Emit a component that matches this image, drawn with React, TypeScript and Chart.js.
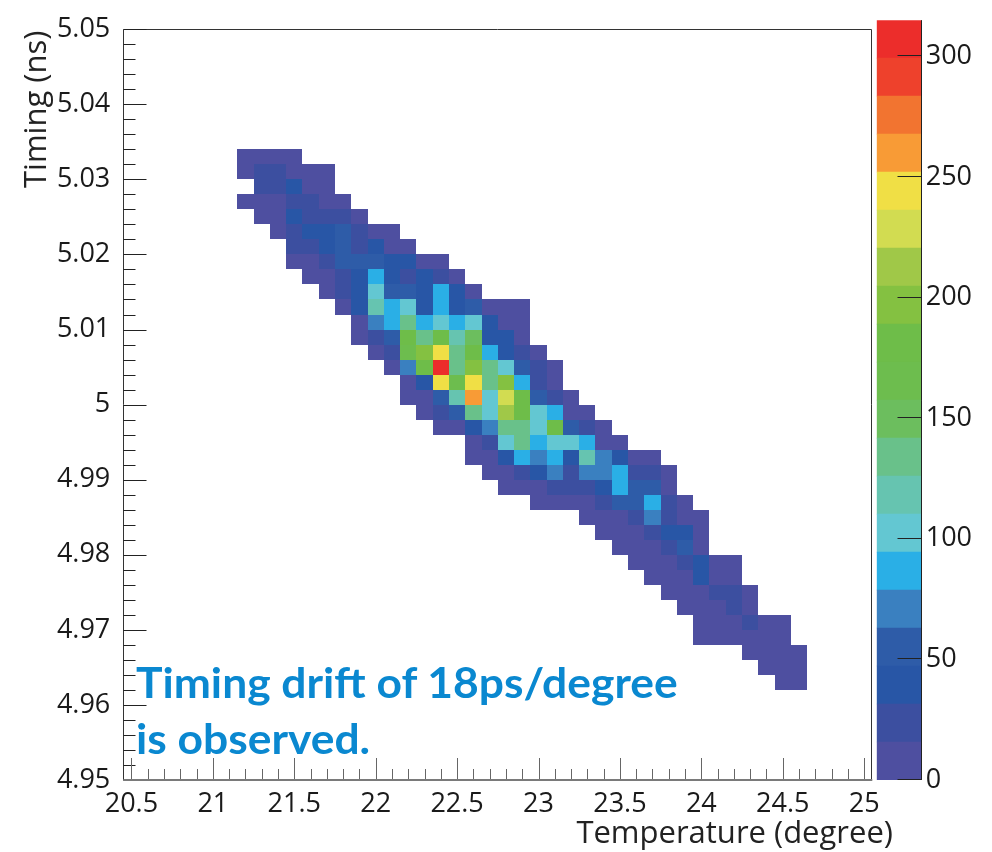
import React, { useEffect, useLayoutEffect, useRef, useState } from "react";
import { Chart, registerables } from "chart.js";

Chart.register(...registerables);

// ---- binning of the 2D histogram ----
const xBinFirstLow = 21.15; // low edge of the first temperature bin
const xBinWidth = 0.1;
const yBinFirstHigh = 5.034; // high edge of the first (top) timing bin
const yBinWidth = 0.002;

// first temperature bin index used in each timing row (top row first)
const rowFirstBin = [
  0, 0, 1, 0, 1, 2, 3, 3, 4, 5, 6, 7, 7, 8, 9, 10, 10, 11, 12, 14, 14, 15, 16,
  18, 21, 22, 23, 24, 25, 26, 27, 28, 28, 31, 32, 33,
];

// entries per cell, row by row from the top (5.034 ns) downwards
const rowCounts = [
  [4, 7, 6, 3],
  [9, 20, 22, 13, 10, 5],
  [19, 26, 35, 14, 8],
  [5, 11, 14, 25, 23, 12, 6],
  [7, 13, 36, 27, 29, 21, 9],
  [10, 24, 40, 38, 52, 27, 12, 4],
  [18, 29, 42, 56, 26, 37, 11, 6],
  [8, 14, 28, 58, 50, 61, 44, 39, 12, 5],
  [6, 12, 25, 41, 90, 43, 30, 36, 22, 9],
  [10, 23, 45, 104, 57, 53, 46, 85, 38, 8],
  [13, 42, 120, 92, 101, 40, 89, 44, 59, 11, 7, 4],
  [9, 70, 86, 131, 93, 107, 82, 99, 35, 13, 6],
  [5, 29, 54, 178, 138, 184, 115, 149, 43, 33, 10],
  [12, 26, 168, 195, 246, 130, 180, 88, 38, 20, 7],
  [14, 73, 186, 312, 136, 199, 128, 98, 60, 24, 8],
  [9, 37, 240, 170, 249, 133, 202, 84, 28, 11],
  [5, 13, 56, 116, 262, 108, 229, 183, 55, 21, 10],
  [11, 27, 52, 139, 103, 215, 177, 105, 91, 13, 6],
  [8, 15, 46, 68, 136, 129, 100, 175, 59, 25, 9],
  [12, 22, 106, 134, 86, 102, 97, 91, 14, 7],
  [6, 13, 42, 89, 71, 81, 39, 119, 66, 44, 12, 5],
  [9, 14, 26, 41, 75, 30, 69, 74, 92, 23, 19, 8],
  [7, 11, 15, 22, 28, 25, 37, 83, 51, 58, 13],
  [6, 10, 14, 12, 24, 54, 57, 94, 27, 9],
  [5, 11, 15, 28, 65, 22, 13, 6],
  [7, 9, 14, 26, 35, 42, 10],
  [4, 12, 15, 24, 50, 11],
  [6, 9, 14, 30, 39, 12, 5],
  [8, 11, 13, 34, 14, 7],
  [5, 10, 15, 20, 17, 8],
  [6, 12, 14, 23, 9],
  [7, 10, 13, 18, 12, 5],
  [4, 8, 11, 13, 9, 6],
  [7, 10, 12, 5],
  [9, 8, 6],
  [5, 4],
];

// ---- axes ----
const xRange = [20.45, 25.05];
const yRange = [4.95, 5.05];
const xAxisTicks = [20.5, 21, 21.5, 22, 22.5, 23, 23.5, 24, 24.5, 25];
const yAxisTicks = [4.95, 4.96, 4.97, 4.98, 4.99, 5, 5.01, 5.02, 5.03, 5.04, 5.05];
const zAxisTicks = [0, 50, 100, 150, 200, 250, 300];
const zMax = 315;
const xMinorStep = 0.1;
const yMinorStep = 0.002;

const xTitle = "Temperature (degree)";
const yTitle = "Timing (ns)";
const noteLines = ["Timing drift of 18ps/degree", "is observed."];

// 20-level palette, lowest first
const paletteColors = [
  "#4e4fa0", "#3c4fa0", "#2856a6", "#2e5ca8", "#3a80c0",
  "#2aafe6", "#63c7d2", "#66c4b0", "#69c18a", "#6cbe5e",
  "#6dbd4e", "#6ebd49", "#84c141", "#a0c848", "#d2dc51",
  "#f0df45", "#f89b36", "#f27430", "#ee412c", "#ec2d2b",
];

const FONT = "'Open Sans', 'DejaVu Sans', sans-serif";
const fmt = (v: number) => String(Math.round(v * 1000) / 1000);

type Cell = { x: number; y: number; v: number };

function buildCells(): Cell[] {
  const cells: Cell[] = [];
  rowCounts.forEach((row, j) => {
    row.forEach((v, k) => {
      const i = rowFirstBin[j] + k;
      cells.push({
        x: xBinFirstLow + (i + 0.5) * xBinWidth,
        y: yBinFirstHigh - (j + 0.5) * yBinWidth,
        v,
      });
    });
  });
  return cells;
}

function levelOf(v: number) {
  return Math.min(paletteColors.length - 1, Math.floor((v / zMax) * paletteColors.length));
}

const heatmapPlugin = {
  id: "heatmap2d",
  afterDatasetsDraw(chart: any) {
    const { ctx, chartArea: a } = chart;
    const xs = chart.scales.x;
    const ys = chart.scales.y;
    const data: Cell[] = chart.data.datasets[0].data;
    ctx.save();
    for (const c of data) {
      if (c.v <= 0) continue;
      const l = Math.round(xs.getPixelForValue(c.x - xBinWidth / 2));
      const r = Math.round(xs.getPixelForValue(c.x + xBinWidth / 2));
      const t = Math.round(ys.getPixelForValue(c.y + yBinWidth / 2));
      const b = Math.round(ys.getPixelForValue(c.y - yBinWidth / 2));
      ctx.fillStyle = paletteColors[levelOf(c.v)];
      ctx.fillRect(l, t, r - l, b - t);
    }

    const L = Math.round(a.left) + 0.5;
    const R = Math.round(a.right) - 0.5;
    const T = Math.round(a.top) + 0.5;
    const B = Math.round(a.bottom);

    // frame
    ctx.lineWidth = 1;
    ctx.strokeStyle = "#333";
    ctx.beginPath();
    ctx.moveTo(L, B);
    ctx.lineTo(L, T);
    ctx.lineTo(R, T);
    ctx.lineTo(R, B);
    ctx.stroke();

    // y ticks (inward)
    ctx.strokeStyle = "#222";
    const y0 = Math.ceil(yRange[0] / yMinorStep - 1e-6);
    const y1 = Math.floor(yRange[1] / yMinorStep + 1e-6);
    for (let k = y0; k <= y1; k++) {
      const py = Math.round(ys.getPixelForValue(k * yMinorStep)) + 0.5;
      const len = k % 5 === 0 ? 23 : 12;
      ctx.beginPath();
      ctx.moveTo(L, py);
      ctx.lineTo(L + len, py);
      ctx.stroke();
    }

    // x ticks (inward)
    ctx.strokeStyle = "#666";
    const x0 = Math.ceil(xRange[0] / xMinorStep - 1e-6);
    const x1 = Math.floor(xRange[1] / xMinorStep + 1e-6);
    for (let k = x0; k <= x1; k++) {
      const px = Math.round(xs.getPixelForValue(k * xMinorStep)) + 0.5;
      const len = k % 5 === 0 ? 22 : 11;
      ctx.beginPath();
      ctx.moveTo(px, B);
      ctx.lineTo(px, B - len);
      ctx.stroke();
    }

    // bottom axis line
    ctx.strokeStyle = "#7a7a7a";
    ctx.lineWidth = 2;
    ctx.beginPath();
    ctx.moveTo(a.left, B);
    ctx.lineTo(a.right, B);
    ctx.stroke();
    ctx.restore();
  },
};

const paletteAxisPlugin = {
  id: "paletteAxis",
  afterDatasetsDraw(chart: any) {
    const { ctx, chartArea: a } = chart;
    const zs = chart.scales.y;
    const R = Math.round(a.right) - 0.5;
    ctx.save();
    ctx.lineWidth = 1;
    ctx.strokeStyle = "#222";
    ctx.beginPath();
    ctx.moveTo(R, a.top);
    ctx.lineTo(R, a.bottom);
    ctx.stroke();
    for (const v of zAxisTicks) {
      const py = Math.round(zs.getPixelForValue(v)) - 0.5;
      ctx.beginPath();
      ctx.moveTo(R - 24, py);
      ctx.lineTo(R, py);
      ctx.stroke();
    }
    ctx.restore();
  },
};

export default function App() {
  const mainRef = useRef<HTMLCanvasElement>(null);
  const barRef = useRef<HTMLCanvasElement>(null);
  const noteRef = useRef<HTMLSpanElement>(null);
  const [noteScale, setNoteScale] = useState(1);

  useLayoutEffect(() => {
    if (noteRef.current) {
      const w = noteRef.current.offsetWidth;
      if (w > 0) setNoteScale(542 / w);
    }
  }, []);

  useEffect(() => {
    if (!mainRef.current || !barRef.current) return;
    const cells = buildCells();

    const main = new Chart(mainRef.current, {
      type: "scatter",
      data: {
        datasets: [
          {
            label: "entries",
            data: cells as any,
            pointRadius: 0,
            pointHoverRadius: 0,
          },
        ],
      },
      options: {
        responsive: false,
        animation: false,
        events: [],
        layout: { padding: { left: 0, top: 20, right: 992 - 872.3, bottom: 0 } },
        plugins: { legend: { display: false }, tooltip: { enabled: false } },
        scales: {
          x: {
            type: "linear",
            min: xRange[0],
            max: xRange[1],
            grid: { display: false, drawTicks: false },
            border: { display: false },
            afterBuildTicks: (s: any) => {
              s.ticks = xAxisTicks.map((v) => ({ value: v }));
            },
            afterFit: (s: any) => {
              s.height = 72;
            },
            ticks: {
              autoSkip: false,
              maxRotation: 0,
              padding: 8,
              color: "#1a1a1a",
              font: { family: FONT, size: 27 },
              callback: (v: any) => fmt(Number(v)),
            },
          },
          y: {
            type: "linear",
            min: yRange[0],
            max: yRange[1],
            grid: { display: false, drawTicks: false },
            border: { display: false },
            afterBuildTicks: (s: any) => {
              s.ticks = yAxisTicks.map((v) => ({ value: v }));
            },
            afterFit: (s: any) => {
              s.width = 123.3;
            },
            ticks: {
              autoSkip: false,
              padding: 13,
              color: "#1a1a1a",
              font: { family: FONT, size: 27 },
              callback: (v: any) => fmt(Number(v)),
            },
          },
        },
      },
      plugins: [heatmapPlugin],
    });

    const bands = paletteColors.map((c, k) => ({
      label: "level " + (k + 1),
      data: [[(k * zMax) / paletteColors.length, ((k + 1) * zMax) / paletteColors.length]],
      backgroundColor: c,
      borderWidth: 0,
      barPercentage: 1,
      categoryPercentage: 1,
      grouped: false,
    }));

    const bar = new Chart(barRef.current, {
      type: "bar",
      data: { labels: [""], datasets: bands as any },
      options: {
        responsive: false,
        animation: false,
        events: [],
        layout: { padding: { left: 16.7, top: 20, right: 0, bottom: 72 } },
        plugins: { legend: { display: false }, tooltip: { enabled: false } },
        scales: {
          x: { display: false },
          y: {
            position: "right",
            type: "linear",
            min: 0,
            max: zMax,
            grid: { display: false, drawTicks: false },
            border: { display: false },
            afterBuildTicks: (s: any) => {
              s.ticks = zAxisTicks.map((v) => ({ value: v }));
            },
            afterFit: (s: any) => {
              s.width = 132 - 61.7;
            },
            ticks: {
              autoSkip: false,
              padding: 4,
              color: "#1a1a1a",
              font: { family: FONT, size: 27 },
              callback: (v: any) => fmt(Number(v)),
            },
          },
        },
      },
      plugins: [paletteAxisPlugin],
    });

    return () => {
      main.destroy();
      bar.destroy();
    };
  }, []);

  return (
    <div style={{ position: "absolute", left: 0, top: 0, width: 992, height: 852, background: "#fff", overflow: "hidden" }}>
      <canvas ref={mainRef} width={992} height={852} style={{ position: "absolute", left: 0, top: 0 }} />
      <canvas ref={barRef} width={132} height={852} style={{ position: "absolute", left: 860, top: 0 }} />
      <div
        style={{
          position: "absolute",
          left: 136,
          top: 654,
          fontFamily: "Lato, 'Open Sans', sans-serif",
          fontWeight: 700,
          fontSize: 42,
          lineHeight: "56px",
          color: "#0a88d0",
          whiteSpace: "nowrap",
          transformOrigin: "left top",
          transform: `scaleX(${noteScale})`,
        }}
      >
        <span ref={noteRef} style={{ display: "inline-block" }}>{noteLines[0]}</span>
        <br />
        <span style={{ display: "inline-block" }}>{noteLines[1]}</span>
      </div>
      <div
        style={{
          position: "absolute",
          right: 99,
          top: 815.5,
          fontFamily: FONT,
          fontSize: 31,
          lineHeight: "31px",
          color: "#222",
          whiteSpace: "nowrap",
        }}
      >
        {xTitle}
      </div>
      <div
        style={{
          position: "absolute",
          left: 19.2,
          top: 188,
          fontFamily: FONT,
          fontSize: 31,
          lineHeight: "31px",
          color: "#222",
          whiteSpace: "nowrap",
          transformOrigin: "left top",
          transform: "rotate(-90deg)",
        }}
      >
        {yTitle}
      </div>
    </div>
  );
}
